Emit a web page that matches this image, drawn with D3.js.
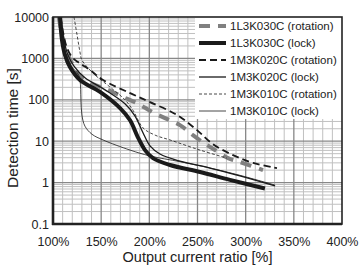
<!DOCTYPE html>
<html><head><meta charset="utf-8">
<script src="https://cdn.jsdelivr.net/npm/d3@7"></script>
<style>
body{margin:0;background:#fff;}
svg{display:block;font-family:"Liberation Sans",Arial,sans-serif;}
</style></head>
<body>
<svg id="c" width="361" height="266"></svg>
<script>
// ---- data ----
const xTicks = [100,150,200,250,300,350,400];
const yTicks = [0.1,1,10,100,1000,10000];
const seriesNames = ["1L3K030C (rotation)","1L3K030C (lock)","1M3K020C (rotation)","1M3K020C (lock)","1M3K010C (rotation)","1M3K010C (lock)"];

const rot1L3K030 = [[106,10000],[109.3,3670],[113.5,1590],[119.7,770],[129,355],[141.5,240],[157,174],[172.7,117],[187.2,83],[202.8,51],[216.3,36],[231.8,24.5],[245.3,14],[257.8,8.6],[266,6.6],[281.7,3.9],[294,3.15],[318,2.0]];
const lock1L3K030 = [[107.3,10000],[109.3,2780],[112.5,1200],[117.6,620],[128,300],[148.8,155],[169.6,63],[180,32],[188,12.6],[195.5,6.1],[203.8,3.9],[221.5,2.66],[252.6,1.8],[283.7,1.16],[320,0.72]];
const rot1M3K020 = [[108,10000],[113.5,2100],[119.7,1080],[126,815],[138.4,525],[152,300],[180,145],[200.7,88],[228.7,43],[249.5,18.5],[266,8.5],[286.9,4.6],[307.6,3.0],[332.5,2.25]];
const lock1M3K020 = [[108.3,10000],[111.4,2780],[115.6,1200],[121.8,655],[133.2,340],[154,174],[174.7,80],[185,41],[193.4,16],[200.7,7.7],[211,4.9],[231.8,3.3],[263,2.25],[294,1.45],[330.5,0.83]];
const rot1M3K010 = [[121.8,10000],[125,3670],[128,1430],[130,910],[143.6,400],[159,205],[174.7,100],[183,56],[193.4,21],[206,14],[221.5,10.7],[252.6,6.1],[280.6,3.9]];
const lock1M3K010 = [[106.2,10000],[109.3,2780],[113.5,1200],[119.7,620],[126,420],[128,300],[129,100],[130,43],[133.2,23],[140.5,14.7],[152,10.7],[180,6.1],[200.7,4.4],[231.8,3.2],[263,2.25],[294,1.5],[330.5,0.87]];

// ---- layout ----
const svg = d3.select("#c");
const L=53,R=342,T=17,B=224;
const x = d3.scaleLinear().domain([100,400]).range([L,R]);
const y = d3.scaleLog().domain([0.1,10000]).range([B,T]);

// grid
const g = svg.append("g");
const vMinor = d3.range(110,400,10).filter(v=>v%50!==0);
const vMajor = d3.range(150,400,50);
g.selectAll(".vmin").data(vMinor).join("line")
  .attr("x1",d=>x(d)).attr("x2",d=>x(d)).attr("y1",T).attr("y2",B)
  .attr("stroke","#c0c0c0").attr("stroke-width",1);
const hMinor=[];
[0.1,1,10,100,1000].forEach(dec=>{for(let m=2;m<=9;m++)hMinor.push(dec*m);});
g.selectAll(".hmin").data(hMinor).join("line")
  .attr("x1",L).attr("x2",R).attr("y1",d=>y(d)).attr("y2",d=>y(d))
  .attr("stroke","#c0c0c0").attr("stroke-width",1);
g.selectAll(".vmaj").data(vMajor).join("line")
  .attr("x1",d=>x(d)).attr("x2",d=>x(d)).attr("y1",T).attr("y2",B)
  .attr("stroke","#888").attr("stroke-width",1.3);
g.selectAll(".hmaj").data([1,10,100,1000]).join("line")
  .attr("x1",L).attr("x2",R).attr("y1",d=>y(d)).attr("y2",d=>y(d))
  .attr("stroke","#888").attr("stroke-width",1.3);

// legend background
svg.append("rect").attr("x",195).attr("y",T).attr("width",R-195).attr("height",102).attr("fill","#fff");

// curves
svg.append("clipPath").attr("id","cp").append("rect").attr("x",L).attr("y",T).attr("width",R-L).attr("height",B-T);
const line = d3.line().x(d=>x(d[0])).y(d=>y(d[1])).curve(d3.curveCatmullRom.alpha(0.5));
const styles = [
  {data:rot1L3K030, stroke:"#808080", w:4, dash:"11,8"},
  {data:lock1L3K030, stroke:"#1a1a1a", w:4, dash:null},
  {data:rot1M3K020, stroke:"#1a1a1a", w:1.8, dash:"7,4"},
  {data:lock1M3K020, stroke:"#1a1a1a", w:1.3, dash:null},
  {data:rot1M3K010, stroke:"#1a1a1a", w:0.8, dash:"3,2"},
  {data:lock1M3K010, stroke:"#1a1a1a", w:0.8, dash:null}
];
const cg = svg.append("g").attr("clip-path","url(#cp)");
styles.forEach(s=>{
  cg.append("path").attr("d",line(s.data)).attr("fill","none")
    .attr("stroke",s.stroke).attr("stroke-width",s.w)
    .attr("stroke-dasharray",s.dash).attr("stroke-linecap","butt").attr("stroke-linejoin","round");
});

// frame
svg.append("rect").attr("x",L).attr("y",T).attr("width",R-L).attr("height",B-T)
  .attr("fill","none").attr("stroke","#222").attr("stroke-width",1.6);
svg.append("line").attr("x1",L).attr("x2",L).attr("y1",T).attr("y2",B+1).attr("stroke","#222").attr("stroke-width",2.6);
svg.append("line").attr("x1",L-1).attr("x2",R).attr("y1",B).attr("y2",B).attr("stroke","#222").attr("stroke-width",2.6);

// axes
const xa = svg.append("g").attr("transform",`translate(0,${B})`)
  .call(d3.axisBottom(x).tickValues(xTicks).tickSize(0).tickPadding(13).tickFormat(d=>d+"%"));
xa.select(".domain").remove();
xa.selectAll("text").attr("font-size",12.5).attr("fill","#222").attr("font-family","Liberation Sans, Arial, sans-serif");
const ya = svg.append("g").attr("transform",`translate(${L},0)`)
  .call(d3.axisLeft(y).tickValues(yTicks).tickSize(0).tickPadding(4).tickFormat(d=>d<1?"0.1":String(d)));
ya.select(".domain").remove();
ya.selectAll("text").attr("font-size",12.5).attr("fill","#222").attr("font-family","Liberation Sans, Arial, sans-serif");

// titles
svg.append("text").attr("x",(L+R)/2).attr("y",262).attr("text-anchor","middle")
  .attr("font-size",14.5).attr("fill","#222").text("Output current ratio [%]");
svg.append("text").attr("transform","translate(18,128) rotate(-90)").attr("text-anchor","middle")
  .attr("font-size",15.5).attr("fill","#222").text("Detection time [s]");

// legend
const lg = svg.append("g");
seriesNames.forEach((n,i)=>{
  const yy = 26 + i*17;
  const s = styles[i];
  lg.append("line").attr("x1",199).attr("x2",226).attr("y1",yy).attr("y2",yy)
    .attr("stroke",s.stroke).attr("stroke-width",s.w).attr("stroke-dasharray",s.dash);
  lg.append("text").attr("x",230).attr("y",yy+4).attr("font-size",11.5).attr("fill","#222").text(n);
});
</script>
</body></html>
